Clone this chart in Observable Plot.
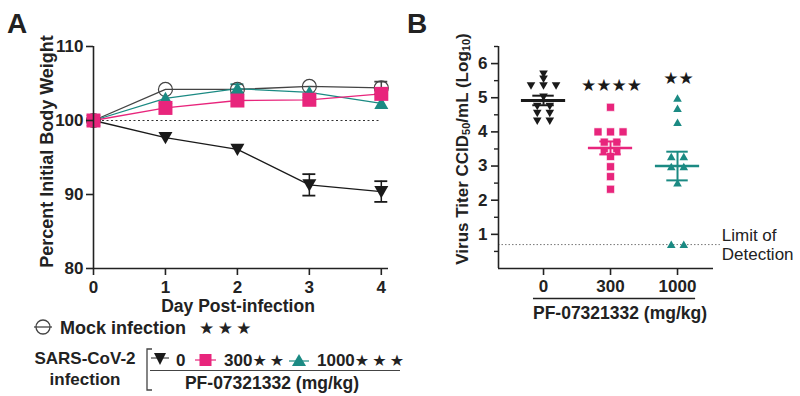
<!DOCTYPE html>
<html><head><meta charset="utf-8">
<script src="https://cdn.jsdelivr.net/npm/d3@7"></script>
<script src="https://cdn.jsdelivr.net/npm/@observablehq/plot@0.6"></script>
<style>
body{margin:0;background:#fff;}
#wrap{position:relative;width:800px;height:396px;overflow:hidden;font-family:'Liberation Sans',Arial,sans-serif;}
#a,#b{position:absolute;top:0;}
#a{left:0}#b{left:400px}
#ov{position:absolute;left:0;top:0;pointer-events:none;}
</style></head><body>
<div id="wrap"><div id="a"></div><div id="b"></div>
<svg id="ov" width="800" height="396" font-family="'Liberation Sans',Arial,sans-serif" fill="#222">
  <text x="7" y="33" font-size="28" font-weight="bold" font-family="'Liberation Sans Narrow','Liberation Sans',Arial">A</text>
  <text x="407" y="33" font-size="28" font-weight="bold" font-family="'Liberation Sans Narrow','Liberation Sans',Arial">B</text>
  <text transform="translate(462,149) rotate(-90)" text-anchor="middle" dominant-baseline="central" font-size="17" font-weight="bold">Virus Titer CCID<tspan font-size="11" dy="4">50</tspan><tspan dy="-4">/mL (Log</tspan><tspan font-size="11" dy="4">10</tspan><tspan dy="-4">)</tspan></text>
  <!-- legend -->
  <circle cx="43" cy="327" r="7" fill="none" stroke="#444" stroke-width="1.3"/>
  <line x1="34" x2="52" y1="327" y2="327" stroke="#444" stroke-width="1.3"/>
  <text x="60" y="334" font-size="18" font-weight="bold">Mock infection</text>
  <text x="199" y="334" font-size="17" font-family="'DejaVu Sans'" letter-spacing="-1">★ ★ ★</text>
  <text x="85" y="364" text-anchor="middle" font-size="17" font-weight="bold">SARS-CoV-2</text>
  <text x="85" y="385" text-anchor="middle" font-size="17" font-weight="bold">infection</text>
  <path d="M152,349H147V390H152" fill="none" stroke="#444" stroke-width="1.3"/>
  <line x1="151" x2="169" y1="358" y2="358" stroke="#444" stroke-width="1.2"/>
  <path d="M154,353H166L160,365Z" fill="#1a1a1a"/>
  <text x="176" y="366" font-size="17" font-weight="bold">0</text>
  <line x1="195" x2="216" y1="360" y2="360" stroke="#e8257c" stroke-width="1.2"/>
  <rect x="199.5" y="354" width="12" height="12" fill="#e8257c"/>
  <text x="224" y="366" font-size="17" font-weight="bold">300<tspan font-size="16" font-family="'DejaVu Sans'" font-weight="normal" letter-spacing="-1">★ ★</tspan></text>
  <line x1="289" x2="309" y1="361" y2="361" stroke="#1b8a83" stroke-width="1.2"/>
  <path d="M292,366H306L299,354Z" fill="#1b8a83"/>
  <text x="317" y="366" font-size="17" font-weight="bold">1000<tspan font-size="16" font-family="'DejaVu Sans'" font-weight="normal" letter-spacing="-1">★ ★ ★</tspan></text>
  <line x1="150" x2="400" y1="370.5" y2="370.5" stroke="#444" stroke-width="1.2"/>
  <text x="272" y="389" text-anchor="middle" font-size="17.5" font-weight="bold">PF-07321332 (mg/kg)</text>
</svg></div>
<script>
// ---------- Panel A data ----------
const days = [0, 1, 2, 3, 4];
const groupKeys = ["mock", "0", "1000", "300"];
const mockMean = [100, 104.2, 104.2, 104.6, 104.4];
const mockSem = [0, 0, 0, 0, 0.85];
const dose0Mean = [100, 97.7, 96.1, 91.3, 90.4];
const dose0Sem = [0, 0, 0, 1.45, 1.4];
const dose300Mean = [100, 101.7, 102.7, 102.8, 103.6];
const dose300Sem = [0, 0, 0, 0, 0];
const dose1000Mean = [100, 103.0, 104.3, 103.8, 102.3];
const dose1000Sem = [0, 0, 0.6, 0, 0];
const yTicksA = [80, 90, 100, 110];

// ---------- Panel B data ----------
const doses = ["0", "300", "1000"];
const titer0 = [5.7, 5.55, 5.35, 5.35, 5.35, 5.02, 4.75, 4.75, 4.55, 4.55, 4.32, 4.32];
const titer300 = [4.72, 4.0, 4.0, 4.0, 3.7, 3.7, 3.45, 3.45, 3.28, 2.98, 2.69, 2.32];
const titer1000 = [4.98, 4.68, 4.27, 3.27, 3.27, 2.98, 2.98, 2.5, 0.7, 0.7];
const titerMean = [4.92, 3.53, 3.0];
const titerSem = [0.14, 0.19, 0.42];
const stars = ["", "★★★★", "★★"];
const starLevel = [null, 5.36, 5.57];
const yTicksB = [1, 2, 3, 4, 5, 6];
const limitOfDetection = 0.7;

const colors = {mock: "#444", "0": "#1a1a1a", "300": "#e8257c", "1000": "#1b8a83"};
const font = "'Liberation Sans', Arial, sans-serif";

// custom symbols
const triDown = {draw(ctx, size) { const r = Math.sqrt(size / Math.PI); ctx.moveTo(-r, -0.8 * r); ctx.lineTo(r, -0.8 * r); ctx.lineTo(0, 0.95 * r); ctx.closePath(); }};
const triUp = {draw(ctx, size) { const r = Math.sqrt(size / Math.PI); ctx.moveTo(-r, 0.8 * r); ctx.lineTo(r, 0.8 * r); ctx.lineTo(0, -0.95 * r); ctx.closePath(); }};
const sq = {draw(ctx, size) { const r = Math.sqrt(size / Math.PI); ctx.rect(-r, -r, 2 * r, 2 * r); }};

const seriesA = {mock: [mockMean, mockSem], "0": [dose0Mean, dose0Sem], "1000": [dose1000Mean, dose1000Sem], "300": [dose300Mean, dose300Sem]};
const rowsA = groupKeys.flatMap(k => days.map((d, i) => ({group: k, day: d, v: seriesA[k][0][i], e: seriesA[k][1][i]})));
const errA = rowsA.filter(d => d.e > 0);
const colorScale = {domain: Object.keys(colors), range: Object.values(colors)};

const styleA = {fontFamily: font, fontSize: "17px", fontWeight: "bold", color: "#222", background: "white", overflow: "visible"};
const intFmt = d => String(d);

const plotA = Plot.plot({
  width: 400, height: 318, marginLeft: 93, marginRight: 12, marginTop: 46, marginBottom: 50,
  x: {domain: [0, 4.1]}, y: {domain: [80, 110]}, color: colorScale,
  style: styleA,
  marks: [
    Plot.ruleY([100], {x1: 0, x2: 3.97, stroke: "#333", strokeWidth: 1, strokeDasharray: "2,2.5"}),
    Plot.line(rowsA, {x: "day", y: "v", z: "group", stroke: "group", strokeWidth: 1.3}),
    Plot.ruleX(errA, {x: "day", y1: d => d.v - d.e, y2: d => d.v + d.e, stroke: "group", strokeWidth: 1.5}),
    Plot.ruleY(errA, {y: d => d.v + d.e, x1: d => d.day - 0.09, x2: d => d.day + 0.09, stroke: "group", strokeWidth: 1.8}),
    Plot.ruleY(errA, {y: d => d.v - d.e, x1: d => d.day - 0.09, x2: d => d.day + 0.09, stroke: "group", strokeWidth: 1.8}),
    Plot.dot(rowsA.filter(d => d.group === "mock"), {x: "day", y: "v", r: 7, stroke: "#444", strokeWidth: 1.2, fill: "none"}),
    Plot.dot(rowsA.filter(d => d.group === "0"), {x: "day", y: "v", r: 7, symbol: triDown, fill: "group", stroke: null}),
    Plot.dot(rowsA.filter(d => d.group === "1000"), {x: "day", y: "v", r: 7, symbol: triUp, fill: "group", stroke: null}),
    Plot.dot(rowsA.filter(d => d.group === "300"), {x: "day", y: "v", r: 7, symbol: sq, fill: "group", stroke: null}),
    Plot.ruleX([0], {stroke: "#222", strokeWidth: 1.6}),
    Plot.ruleY([80], {stroke: "#222", strokeWidth: 1.6}),
    Plot.axisY({ticks: yTicksA, tickFormat: intFmt, tickSize: 7, tickPadding: 3, label: null, strokeWidth: 1.6, fontSize: 17}),
    Plot.axisX({ticks: days, tickFormat: intFmt, tickSize: 7, tickPadding: 5, label: null, strokeWidth: 1.6, fontSize: 17}),
    Plot.text(["Percent Initial Body Weight"], {text: d => d, frameAnchor: "left", textAnchor: "middle", lineAnchor: "middle", rotate: -90, dx: -46, dy: -6, fontSize: 18}),
    Plot.text(["Day Post-infection"], {text: d => d, frameAnchor: "bottom", textAnchor: "middle", lineAnchor: "middle", dy: 38, dx: -3, fontSize: 17.5})
  ]
});
document.getElementById("a").append(plotA);

// ---------- Panel B ----------
const titers = [titer0, titer300, titer1000];
const step = 0.187;
function swarm(vals) {
  const counts = d3.rollup(vals, v => v.length, v => v);
  const seen = new Map();
  return vals.map(v => { const n = counts.get(v); const k = seen.get(v) || 0; seen.set(v, k + 1); return (k - (n - 1) / 2) * step; });
}
const rowsB = doses.flatMap((dose, gi) => { const off = swarm(titers[gi]); return titers[gi].map((v, j) => ({group: dose, gi, x: gi + off[j], v})); });
const sumB = doses.map((dose, gi) => ({group: dose, gi, m: titerMean[gi], e: titerSem[gi], star: stars[gi], sy: starLevel[gi]}));

const plotB = Plot.plot({
  width: 400, height: 330, marginLeft: 98, marginRight: 87, marginTop: 46, marginBottom: 62,
  x: {type: "linear", domain: [-0.672, 2.537]}, y: {domain: [0, 6.5]}, color: colorScale,
  style: styleA,
  marks: [
    Plot.ruleY([limitOfDetection], {x1: -0.672, x2: 2.64, stroke: "#777", strokeWidth: 1, strokeDasharray: "1.5,2"}),
    Plot.dot(rowsB.filter(d => d.gi === 0), {x: "x", y: "v", r: 4.3, symbol: triDown, fill: "group", stroke: null}),
    Plot.dot(rowsB.filter(d => d.gi === 1), {x: "x", y: "v", r: 4.0, symbol: sq, fill: "group", stroke: "white", strokeWidth: 0.6}),
    Plot.dot(rowsB.filter(d => d.gi === 2), {x: "x", y: "v", r: 4.3, symbol: triUp, fill: "group", stroke: null}),
    Plot.ruleY(sumB, {y: "m", x1: d => d.gi - 0.33, x2: d => d.gi + 0.33, stroke: "group", strokeWidth: d => d.gi === 0 ? 3 : 2.4}),
    Plot.ruleX(sumB, {x: "gi", y1: d => d.m - d.e, y2: d => d.m + d.e, stroke: "group", strokeWidth: 2}),
    Plot.ruleY(sumB, {y: d => d.m + d.e, x1: d => d.gi - 0.16, x2: d => d.gi + 0.16, stroke: "group", strokeWidth: 2}),
    Plot.ruleY(sumB, {y: d => d.m - d.e, x1: d => d.gi - 0.16, x2: d => d.gi + 0.16, stroke: "group", strokeWidth: 2}),
    Plot.text(sumB.filter(d => d.star), {x: "gi", y: "sy", text: "star", fontSize: 17, fontWeight: "normal", fontFamily: "'DejaVu Sans'", fill: "#1a1a1a", letterSpacing: "2px", dx: 1}),
    Plot.text(["Limit of\nDetection"], {text: d => d, x: 2.66, y: limitOfDetection, textAnchor: "start", lineAnchor: "middle", fontWeight: "normal", fontSize: 17, lineHeight: 1.08}),
    Plot.ruleX([-0.672], {stroke: "#222", strokeWidth: 1.6}),
    Plot.ruleY([0], {stroke: "#222", strokeWidth: 1.6}),
    Plot.ruleY([0], {x1: -0.15, x2: 2.27, dy: 30, stroke: "#222", strokeWidth: 1.4}),
    Plot.axisY({ticks: d3.range(0.5, 6.6, 1), tickSize: 4, tickFormat: () => "", label: null, strokeWidth: 1.4}),
    Plot.axisY({ticks: yTicksB, tickFormat: intFmt, tickSize: 7, tickPadding: 4, label: null, strokeWidth: 1.6, fontSize: 17}),
    Plot.axisX({ticks: [0, 1, 2], tickFormat: i => doses[i], tickSize: 7, tickPadding: 4, label: null, strokeWidth: 1.6, fontSize: 17}),
    Plot.text(["PF-07321332 (mg/kg)"], {text: d => d, frameAnchor: "bottom", textAnchor: "middle", lineAnchor: "middle", dy: 45, dx: 14, fontSize: 17.5})
  ]
});
document.getElementById("b").append(plotB);
</script>
</body></html>
